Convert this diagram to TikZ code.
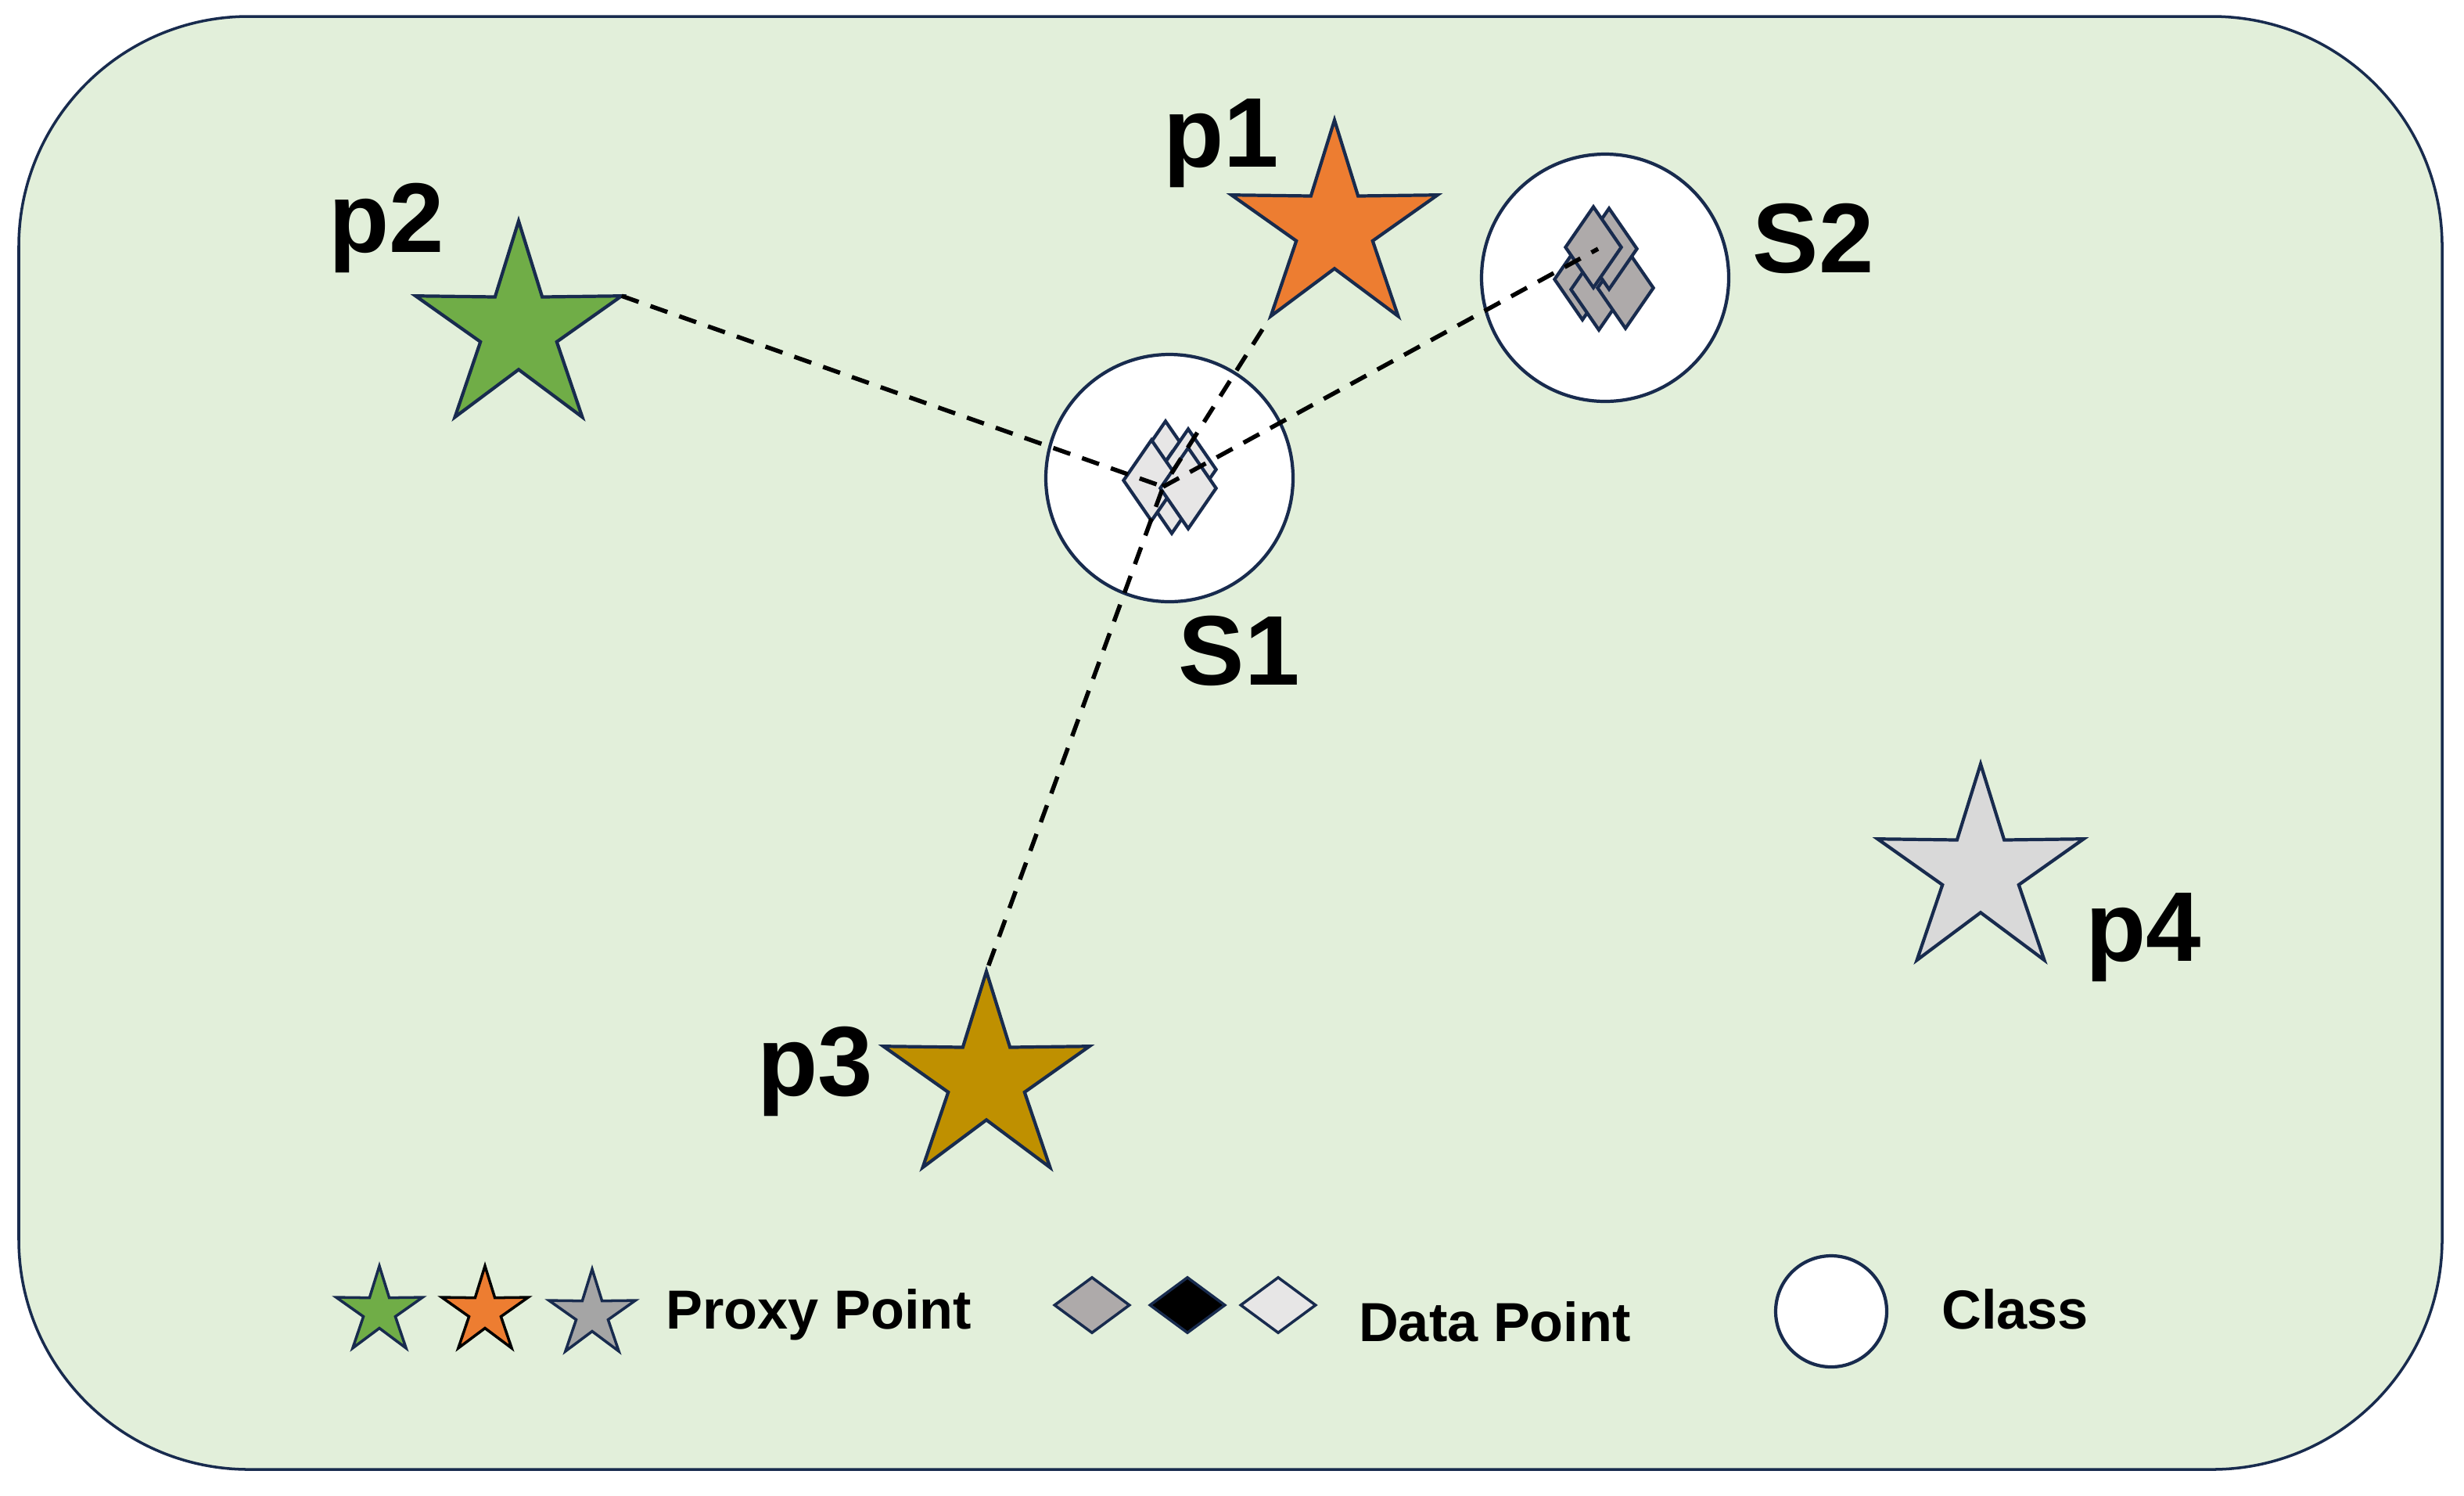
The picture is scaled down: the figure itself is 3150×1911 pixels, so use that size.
\documentclass[tikz,border=0pt]{standalone}
\usepackage{fontspec}
\setmainfont{Liberation Sans}
\usetikzlibrary{shapes.geometric}
\definecolor{navy}{RGB}{24,43,78}
\definecolor{bgreen}{HTML}{E2EFDA}
\definecolor{pgreen}{HTML}{70AD47}
\definecolor{porange}{HTML}{ED7D31}
\definecolor{pgold}{HTML}{BF9000}
\definecolor{plight}{HTML}{D9D9D9}
\definecolor{pgray}{HTML}{A5A5A5}
\definecolor{dlight}{HTML}{E7E6E6}
\definecolor{ddark}{HTML}{AEAAAA}
\tikzstyle{every picture}+=[x=0.1mm,y=-0.1mm]
\tikzstyle{every picture}+=[line join=miter]
\tikzstyle{frame}=[draw=navy,fill=bgreen,line width=1pt,rounded corners=29.4mm]
\tikzstyle{proxy}=[star,star points=5,star point ratio=2.7,draw=navy,line width=1.2pt,
  inner sep=0pt,outer sep=0pt,minimum size=27.7mm]
\tikzstyle{proxysmall}=[proxy,minimum size=11.6mm,line width=1pt]
\tikzstyle{datapt}=[diamond,draw=navy,line width=1.2pt,inner sep=0pt,
  minimum width=7.3mm,minimum height=10.5mm]
\tikzstyle{datasmall}=[diamond,draw=navy,line width=1pt,inner sep=0pt,
  minimum width=9.7mm,minimum height=7.2mm]
\tikzstyle{classring}=[circle,draw=navy,fill=white,line width=1.2pt,inner sep=0pt,
  minimum size=31.6mm]
\tikzstyle{link}=[line width=0.55mm,dash pattern=on 2.3mm off 1.6mm]
\tikzstyle{lbl}=[anchor=base,inner sep=0pt,font=\fontsize{36}{40}\selectfont\bfseries]
\tikzstyle{legtext}=[anchor=base,inner sep=0pt,font=\fontsize{20}{24}\selectfont\bfseries]

\begin{document}
\begin{tikzpicture}
\useasboundingbox (0,0) rectangle (3150,1911);
\draw[frame] (24,21) rectangle (3122,1878);

% classes
\node[classring] (s1) at (1495,611) {};
\node[classring] (s2) at (2052,355) {};

% data points of S1
\node[datapt,fill=dlight] (s1a) at (1490,590) {};
\node[datapt,fill=dlight] (s1d) at (1498,630) {};
\node[datapt,fill=dlight] (s1b) at (1519,600) {};
\node[datapt,fill=dlight] (s1l) at (1472,614) {};
\node[datapt,fill=dlight] (s1c) at (1519,624) {};

% data points of S2
\node[datapt,fill=ddark] (s2c) at (2023,357) {};
\node[datapt,fill=ddark] (s2d) at (2044,370) {};
\node[datapt,fill=ddark] (s2e) at (2078,368) {};
\node[datapt,fill=ddark] (s2b) at (2057,318) {};
\node[datapt,fill=ddark] (s2a) at (2037,316) {};

% proxy points
\node[proxy,fill=porange] (p1) at (1706,292) {};
\node[proxy,fill=pgreen] (p2) at (663,421) {};
\node[proxy,fill=pgold] (p3) at (1261,1380) {};
\node[proxy,fill=plight] (p4) at (2532,1115) {};

% labels
\node[lbl] (p1lbl) at (1561,213) {p1};
\node[lbl] (p2lbl) at (494,322) {p2};
\node[lbl] (p3lbl) at (1042,1400) {p3};
\node[lbl] (p4lbl) at (2740,1228) {p4};
\node[lbl] (s1lbl) at (1584,875) {S1};
\node[lbl] (s2lbl) at (2318,348) {S2};

% distances
\coordinate (hub) at (1487,622);
\coordinate (hubtwo) at (2043,318);
\draw[link] (p2.outer point 5) -- (hub);
\draw[link,shorten <=2mm] (p1.outer point 3) -- (hub);
\draw[link,shorten <=0.8mm] (p3.outer point 1) -- (hub);
\draw[link] (hub) -- (hubtwo);

% legend
\node[proxysmall,fill=pgreen] (lg1) at (485,1676) {};
\node[proxysmall,fill=porange,draw=black] (lg2) at (620,1676) {};
\node[proxysmall,fill=pgray] (lg3) at (757,1680) {};
\node[legtext] (lgproxy) at (1047,1698) {Proxy Point};

\node[datasmall,fill=ddark] (ld1) at (1396,1668) {};
\node[datasmall,fill=black] (ld2) at (1518,1668) {};
\node[datasmall,fill=dlight] (ld3) at (1634,1668) {};
\node[legtext] (lgdata) at (1911,1714) {Data Point};

\node[classring,minimum size=14.2mm] (lc) at (2341,1676) {};
\node[legtext] (lgclass) at (2576,1698) {Class};
\end{tikzpicture}
\end{document}
